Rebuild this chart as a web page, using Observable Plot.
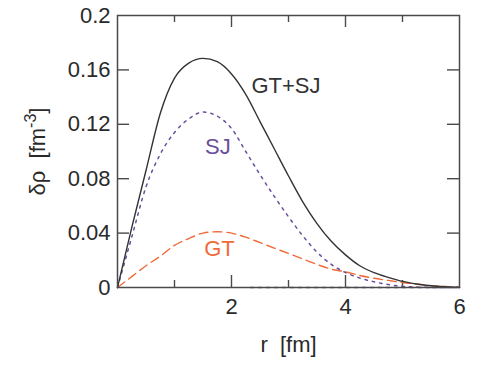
<!DOCTYPE html>
<html><head><meta charset="utf-8">
<script src="https://cdn.jsdelivr.net/npm/d3@7"></script>
<script src="https://cdn.jsdelivr.net/npm/@observablehq/plot@0.6"></script>
<style>
html,body{margin:0;padding:0;background:#fff;}
svg text{white-space:pre;}
</style></head><body><div id="chart"></div>
<script>
// radius grid (fm)
const rValues = [0,0.25,0.5,0.75,1,1.25,1.5,1.75,2,2.25,2.5,2.75,3,3.25,3.5,3.75,4,4.25,4.5,4.75,5,5.25,5.5,5.75,6];
// density differences (fm^-3)
const gtsjValues = [0,0.044,0.086,0.128,0.154,0.165,0.1685,0.166,0.157,0.142,0.122,0.102,0.082,0.063,0.047,0.034,0.024,0.016,0.011,0.0075,0.0045,0.0026,0.0013,0.0006,0.0002];
const sjValues   = [0,0.037,0.074,0.098,0.114,0.124,0.129,0.126,0.117,0.100,0.083,0.067,0.052,0.038,0.026,0.017,0.011,0.007,0.0042,0.0022,0.0008,0.0003,0.0001,0,0];
const gtValues   = [0,0.008,0.016,0.023,0.031,0.036,0.040,0.041,0.040,0.037,0.033,0.029,0.025,0.021,0.017,0.0135,0.0115,0.0088,0.0068,0.0052,0.0037,0.0025,0.0014,0.0007,0.0003];
// dotted SJ trace along the axis
const sjBaseR = [2.33, 6];
const sjBaseV = [0, 0];

const xTickValues = [2,4,6];
const xMajorInner = [2,4];
const xMinorInner = [1,3,5];
const yTickValues = [0,0.04,0.08,0.12,0.16,0.2];
const yTickLabels = ["0","0.04","0.08","0.12","0.16","0.2"];
const yInner = [0.04,0.08,0.12,0.16];

const labelText = ["GT+SJ","SJ","GT"];
const labelR = [2.35,1.76,1.79];
const labelV = [0.1428,0.0983,0.0228];
const labelAnchor = ["start","middle","middle"];

const cBlack = "#333333", cPurple = "#6a4f9c", cOrange = "#f06a3a", cAxis = "#4a4a4a";

const mk = vals => rValues.map((r,i)=>({r, v: vals[i]}));
const gtsj = mk(gtsjValues), sj = mk(sjValues), gt = mk(gtValues);
const sjBase = sjBaseR.map((r,i)=>({r, v: sjBaseV[i]}));
const labels = labelText.map((t,i)=>({t, r: labelR[i], v: labelV[i], a: labelAnchor[i], c: [cBlack,cPurple,cOrange][i]}));

const W = 481, H = 365, mL = 117, mR = 22, mT = 15, mB = 78;
const innerW = W - mL - mR, innerH = H - mT - mB;
const bigT = 12, smallT = 7;

const plot = Plot.plot({
  width: W, height: H,
  marginLeft: mL, marginRight: mR, marginTop: mT, marginBottom: mB,
  style: {fontFamily: "'Liberation Sans', Arial, sans-serif", fontSize: "22px", color: "#2a2a2a", background: "#fff", overflow: "visible"},
  x: {domain: [0,6]},
  y: {domain: [0,0.2]},
  marks: [
    Plot.axisX(xTickValues, {tickSize: 0, tickPadding: 11, label: null, fontSize: 22}),
    Plot.axisY(yTickValues, {tickSize: 0, tickPadding: 7, label: null, fontSize: 22, tickFormat: d => yTickLabels[yTickValues.indexOf(d)]}),
    // inward ticks
    Plot.tickX(xMajorInner, {x: d=>d, insetTop: innerH - bigT, stroke: cAxis, strokeWidth: 1.4}),
    Plot.tickX(xMajorInner, {x: d=>d, insetBottom: innerH - bigT, stroke: cAxis, strokeWidth: 1.4}),
    Plot.tickX(xMinorInner, {x: d=>d, insetTop: innerH - smallT, stroke: cAxis, strokeWidth: 1.4}),
    Plot.tickX(xMinorInner, {x: d=>d, insetBottom: innerH - smallT, stroke: cAxis, strokeWidth: 1.4}),
    Plot.tickY(yInner, {y: d=>d, insetRight: innerW - bigT, stroke: cAxis, strokeWidth: 1.4}),
    Plot.tickY(yInner, {y: d=>d, insetLeft: innerW - bigT, stroke: cAxis, strokeWidth: 1.4}),
    Plot.line(sjBase, {x: "r", y: "v", stroke: cPurple, strokeWidth: 1.5, strokeDasharray: "3,5"}),
    Plot.line(gt, {x: "r", y: "v", stroke: cOrange, strokeWidth: 1.4, strokeDasharray: "9,5", curve: "monotone-x"}),
    Plot.line(sj, {x: "r", y: "v", stroke: cPurple, strokeWidth: 1.5, strokeDasharray: "2.5,5", curve: "monotone-x"}),
    Plot.line(gtsj, {x: "r", y: "v", stroke: cBlack, strokeWidth: 1.4, curve: "monotone-x"}),
    Plot.frame({stroke: cAxis, strokeWidth: 1.5}),
    Plot.text(labels, {x: "r", y: "v", text: "t", textAnchor: "start", lineAnchor: "bottom", fill: "c", fontSize: 22, filter: d => d.a === "start"}),
    Plot.text(labels, {x: "r", y: "v", text: "t", textAnchor: "middle", lineAnchor: "bottom", fill: "c", fontSize: 22, filter: d => d.a === "middle"}),
    Plot.text(["r  [fm]"], {frameAnchor: "bottom", dy: 64, lineAnchor: "bottom", fontSize: 22, fill: "#2a2a2a"}),
    Plot.text(["δρ  [fm-3]"], {frameAnchor: "left", rotate: -90, dx: -73, lineAnchor: "bottom", textAnchor: "middle", fontSize: 22, fill: "#2a2a2a"})
  ]
});
document.getElementById("chart").appendChild(plot);
// superscript for fm^-3
plot.querySelectorAll("text").forEach(t => {
  if (t.textContent === "δρ  [fm-3]") {
    const ns = "http://www.w3.org/2000/svg";
    while (t.firstChild) t.removeChild(t.firstChild);
    t.appendChild(document.createTextNode("δρ  [fm"));
    const sup = document.createElementNS(ns, "tspan");
    sup.setAttribute("dy", "-9");
    sup.setAttribute("font-size", "16");
    sup.textContent = "-3";
    t.appendChild(sup);
    const close = document.createElementNS(ns, "tspan");
    close.setAttribute("dy", "9");
    close.textContent = "]";
    t.appendChild(close);
  }
});
</script></body></html>
